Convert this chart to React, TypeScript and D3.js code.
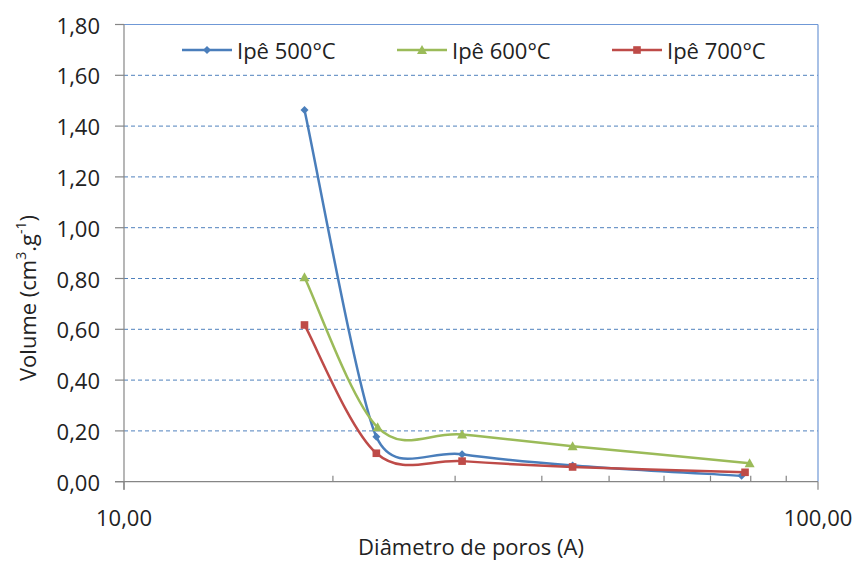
import React from "react";
import * as d3 from "d3";

// Pore-size distribution data (diameter in Å, volume in cm³/g)
const diam500 = [18.2, 23.1, 30.7, 44.3, 77.6];
const vol500 = [1.463, 0.177, 0.108, 0.064, 0.023];

const diam600 = [18.2, 23.2, 30.7, 44.3, 79.7];
const vol600 = [0.805, 0.214, 0.186, 0.14, 0.073];

const diam700 = [18.2, 23.1, 30.7, 44.3, 78.5];
const vol700 = [0.617, 0.112, 0.081, 0.058, 0.037];

const seriesNames = ["Ipê 500°C", "Ipê 600°C", "Ipê 700°C"];
const seriesColors = ["#4a7ebb", "#9bbb59", "#be4b48"];
const seriesMarkers = ["diamond", "triangle", "square"];

const yTicks = [0, 0.2, 0.4, 0.6, 0.8, 1.0, 1.2, 1.4, 1.6, 1.8];
const xMajorTicks = [10, 100];
const xMinorTicks = [20, 30, 40, 50, 60, 70, 80, 90];

const W = 859;
const H = 565;
const FONT = "'Open Sans', 'Liberation Sans', sans-serif";

// Smoothed Bezier path: cardinal-style tangents (1/6) whose handles are
// capped at half the length of the adjacent segments to limit overshoot.
function smoothPath(pts: [number, number][]): string {
  const n = pts.length;
  if (n < 2) return "";
  const dist = (a: [number, number], b: [number, number]) => Math.hypot(b[0] - a[0], b[1] - a[1]);
  const tangents = pts.map((p, i) => {
    const prev = pts[Math.max(0, i - 1)];
    const next = pts[Math.min(n - 1, i + 1)];
    const d02 = dist(prev, next);
    const d01 = dist(prev, p);
    const d12 = dist(p, next);
    let f = 1 / 6;
    if (d02 > 0) {
      if (i > 0) f = Math.min(f, d01 / (2 * d02));
      if (i < n - 1) f = Math.min(f, d12 / (2 * d02));
    }
    return [(next[0] - prev[0]) * f, (next[1] - prev[1]) * f];
  });
  let d = `M${pts[0][0]},${pts[0][1]}`;
  for (let i = 0; i < n - 1; i++) {
    const p1 = pts[i];
    const p2 = pts[i + 1];
    const c1 = [p1[0] + tangents[i][0], p1[1] + tangents[i][1]];
    const c2 = [p2[0] - tangents[i + 1][0], p2[1] - tangents[i + 1][1]];
    d += `C${c1[0]},${c1[1]},${c2[0]},${c2[1]},${p2[0]},${p2[1]}`;
  }
  return d;
}

export default function App() {
  const left = 124;
  const right = 818;
  const top = 24.5;
  const bottom = 481.7;

  const x = d3.scaleLog().domain([10, 100]).range([left, right]);
  const y = d3.scaleLinear().domain([0, 1.8]).range([bottom, top]);

  const series = [
    { xs: diam500, ys: vol500 },
    { xs: diam600, ys: vol600 },
    { xs: diam700, ys: vol700 },
  ];

  const fmt = (v: number) => v.toFixed(2).replace(".", ",");

  const marker = (kind: string, cx: number, cy: number, color: string, key: string) => {
    if (kind === "diamond") {
      const s = 4;
      return (
        <path key={key} d={`M${cx},${cy - s}L${cx + s},${cy}L${cx},${cy + s}L${cx - s},${cy}Z`} fill={color} />
      );
    }
    if (kind === "triangle") {
      const s = 5;
      return (
        <path key={key} d={`M${cx},${cy - s}L${cx + s},${cy + s * 0.8}L${cx - s},${cy + s * 0.8}Z`} fill={color} />
      );
    }
    const s = 3.8;
    return <rect key={key} x={cx - s} y={cy - s} width={2 * s} height={2 * s} fill={color} />;
  };

  const legendX = [182, 397, 612];
  const legendY = 50;

  return (
    <svg
      width={W}
      height={H}
      style={{ position: "absolute", left: 0, top: 0, background: "#fff" }}
      fontFamily={FONT}
    >
      {/* dashed gridlines */}
      {yTicks
        .filter((t) => t > 0 && t < 1.8)
        .map((t) => (
          <line
            key={"g" + t}
            x1={left}
            x2={right}
            y1={y(t)}
            y2={y(t)}
            stroke="#4f81bd"
            strokeWidth={1}
            strokeDasharray="4,3"
          />
        ))}

      {/* plot border top / right */}
      <line x1={left} x2={right} y1={top} y2={top} stroke="#6f98d6" strokeWidth={1.2} />
      <line x1={right} x2={right} y1={top} y2={bottom} stroke="#6f98d6" strokeWidth={1.2} />

      {/* y axis */}
      <line x1={left} x2={left} y1={top} y2={bottom + 8} stroke="#868686" strokeWidth={1.2} />
      {yTicks.map((t) => (
        <g key={"y" + t}>
          <line x1={left - 9} x2={left} y1={y(t)} y2={y(t)} stroke="#868686" strokeWidth={1.2} />
          <text
            x={100}
            y={y(t)}
            textAnchor="end"
            dominantBaseline="central"
            fontSize={22}
            fill="#222"
          >
            {fmt(t)}
          </text>
        </g>
      ))}

      {/* x axis */}
      <line x1={left - 9} x2={right} y1={bottom} y2={bottom} stroke="#868686" strokeWidth={1.2} />
      {xMajorTicks.map((t) => (
        <g key={"xm" + t}>
          <line x1={x(t)} x2={x(t)} y1={bottom} y2={bottom + 8} stroke="#868686" strokeWidth={1.2} />
          <text x={x(t)} y={517} textAnchor="middle" dominantBaseline="central" fontSize={22} fill="#222">
            {fmt(t)}
          </text>
        </g>
      ))}
      {xMinorTicks.map((t) => (
        <line key={"xn" + t} x1={x(t)} x2={x(t)} y1={bottom - 6} y2={bottom} stroke="#868686" strokeWidth={1.2} />
      ))}

      {/* series */}
      {series.map((s, i) => {
        const pts: [number, number][] = s.xs.map((d, j) => [x(d), y(s.ys[j])]);
        return (
          <g key={"s" + i}>
            <path d={smoothPath(pts)} fill="none" stroke={seriesColors[i]} strokeWidth={2.5} />
            {pts.map((p, j) => marker(seriesMarkers[i], p[0], p[1], seriesColors[i], `m${i}-${j}`))}
          </g>
        );
      })}

      {/* legend */}
      {seriesNames.map((name, i) => (
        <g key={"l" + i}>
          <line
            x1={legendX[i]}
            x2={legendX[i] + 50}
            y1={legendY}
            y2={legendY}
            stroke={seriesColors[i]}
            strokeWidth={2.5}
          />
          {marker(seriesMarkers[i], legendX[i] + 25, legendY, seriesColors[i], "lm" + i)}
          <text x={legendX[i] + 55} y={legendY} dominantBaseline="central" fontSize={22} fill="#222">
            {name}
          </text>
        </g>
      ))}

      {/* axis titles */}
      <text x={(left + right) / 2} y={546} textAnchor="middle" dominantBaseline="central" fontSize={22} fill="#222">
        Diâmetro de poros (A)
      </text>
      <text
        transform={`translate(27,298) rotate(-90)`}
        textAnchor="middle"
        dominantBaseline="central"
        fontSize={22}
        fill="#222"
      >
        Volume (cm
        <tspan dy={-7} fontSize={14}>3</tspan>
        <tspan dy={7}>.g</tspan>
        <tspan dy={-7} fontSize={14}>-1</tspan>
        <tspan dy={7}>)</tspan>
      </text>
    </svg>
  );
}
